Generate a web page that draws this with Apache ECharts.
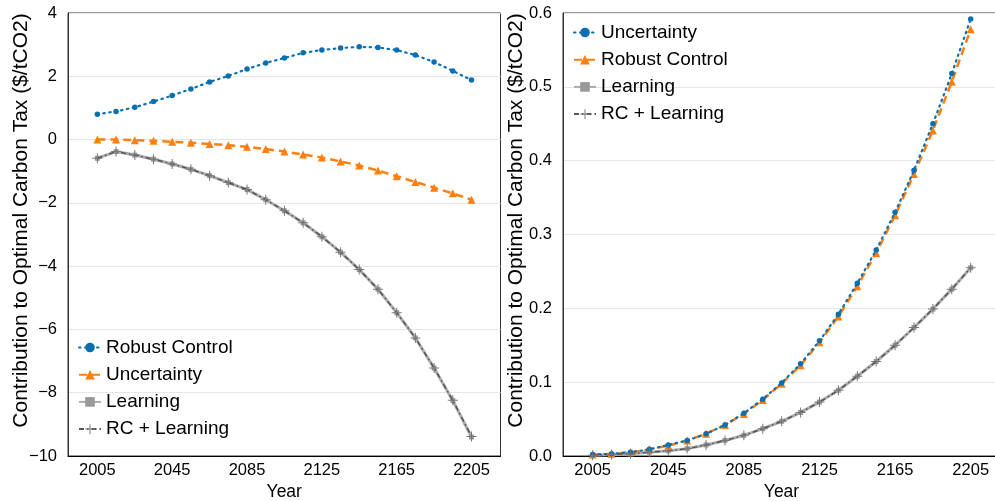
<!DOCTYPE html>
<html><head><meta charset="utf-8">
<script src="https://cdn.jsdelivr.net/npm/echarts@6/dist/echarts.min.js"></script>
<style>html,body{margin:0;padding:0;background:#fff;}#a{position:absolute;left:0;top:0;width:505px;height:501px;}#b{position:absolute;left:505px;top:0;width:490px;height:501px;}</style>
</head><body><div id="a"></div><div id="b"></div>
<script>
const years = [2005,2015,2025,2035,2045,2055,2065,2075,2085,2095,2105,2115,2125,2135,2145,2155,2165,2175,2185,2195,2205];
const xTicks = [2005,2045,2085,2125,2165,2205];
const leftTicks = [-10,-8,-6,-4,-2,0,2,4];
const rightTicks = [0,0.1,0.2,0.3,0.4,0.5,0.6];

const leftRobust = [0.80,0.89,1.02,1.20,1.39,1.60,1.82,2.01,2.23,2.42,2.58,2.74,2.83,2.89,2.93,2.91,2.83,2.67,2.45,2.17,1.88];
const leftUnc = [0.00,0.00,-0.02,-0.04,-0.07,-0.10,-0.14,-0.18,-0.23,-0.30,-0.38,-0.47,-0.57,-0.69,-0.82,-0.98,-1.16,-1.34,-1.52,-1.70,-1.90];
const leftLearn = [-0.59,-0.38,-0.49,-0.62,-0.77,-0.94,-1.14,-1.36,-1.58,-1.90,-2.25,-2.63,-3.07,-3.56,-4.11,-4.73,-5.47,-6.27,-7.22,-8.25,-9.40];
const leftRCL = [-0.59,-0.38,-0.49,-0.62,-0.77,-0.94,-1.14,-1.36,-1.58,-1.90,-2.25,-2.63,-3.07,-3.56,-4.11,-4.73,-5.47,-6.27,-7.22,-8.24,-9.38];

const rightUnc = [0.002,0.003,0.005,0.009,0.015,0.021,0.030,0.042,0.058,0.077,0.099,0.125,0.156,0.192,0.234,0.279,0.330,0.387,0.450,0.518,0.592];
const rightRob = [0.002,0.003,0.005,0.009,0.014,0.021,0.030,0.042,0.057,0.076,0.098,0.123,0.154,0.189,0.230,0.275,0.326,0.382,0.441,0.507,0.578];
const rightLearn = [0.001,0.002,0.003,0.005,0.007,0.010,0.015,0.021,0.028,0.037,0.047,0.059,0.073,0.089,0.108,0.128,0.150,0.174,0.199,0.226,0.255];
const rightRCL = [0.001,0.002,0.003,0.005,0.007,0.010,0.015,0.021,0.028,0.037,0.047,0.059,0.073,0.089,0.108,0.128,0.150,0.174,0.199,0.226,0.255];

const FONT = 'Liberation Sans, Arial, sans-serif';
const BLUE = '#0a6fb0', ORANGE = '#ff7f0e', LGRAY = '#ababab', DGRAY = '#555555';
const PLUS = 'path://M3.6,0H4.4V3.6H8V4.4H4.4V8H3.6V4.4H0V3.6H3.6Z';
const pairs = arr => years.map((y,i)=>[y,arr[i]]);
const minus = v => String(v).replace('-', '\u2212');

function series(names, data) {
  return [
    {name:names[0], type:'line', data:pairs(data[0]), symbol:'circle', symbolSize:5.5,
     itemStyle:{color:BLUE}, lineStyle:{color:BLUE, width:2.2, type:[1.5,4.5], cap:'round'}, z:4},
    {name:names[1], type:'line', data:pairs(data[1]), symbol:'triangle', symbolSize:8,
     itemStyle:{color:ORANGE}, lineStyle:{color:ORANGE, width:2.5, type:[8,5]}, z:3},
    {name:names[2], type:'line', data:pairs(data[2]), symbol:'rect', symbolSize:5,
     itemStyle:{color:'#999'}, lineStyle:{color:LGRAY, width:3}, z:2},
    {name:names[3], type:'line', data:pairs(data[3]), symbol:PLUS, symbolSize:10,
     itemStyle:{color:'#777'}, lineStyle:{color:DGRAY, width:1.5, type:[5,3,1.5,3]}, z:5}
  ].map(s => Object.assign(s, {showSymbol:true, animation:false, silent:true}));
}

function makeOpt(cfg) {
  return {
    animation:false,
    textStyle:{fontFamily:FONT},
    grid:Object.assign({show:true, borderColor:'#333', borderWidth:1, containLabel:false, outerBoundsMode:'none'}, cfg.grid),
    legend:{orient:'vertical', left:cfg.legendLeft, top:cfg.legendTop, itemWidth:22, itemHeight:12, itemGap:8.2,
            textStyle:{fontSize:19, lineHeight:19, color:'#000', fontFamily:FONT}, data:cfg.names, padding:0},
    xAxis:{type:'value', min:1989.3, max:2220.5, name:'Year', nameLocation:'middle', nameGap:27, nameMoveOverlap:false,
           nameTextStyle:{fontSize:17.5, color:'#000', fontFamily:FONT},
           axisLine:{show:true, onZero:false, lineStyle:{color:'#000', width:1}},
           axisTick:{show:false},
           axisLabel:{customValues:xTicks, fontSize:16.5, color:'#000', margin:6, fontFamily:FONT, formatter:v=>String(v)},
           splitLine:{show:false}},
    yAxis:{type:'value', min:cfg.yMin, max:cfg.yMax, interval:cfg.yInt,
           name:'Contribution to Optimal Carbon Tax ($/tCO2)', nameLocation:'middle', nameGap:cfg.nameGap, nameMoveOverlap:false,
           nameTextStyle:{fontSize:21, color:'#000', fontFamily:FONT, padding:[0,0,0,28]},
           axisLine:{show:true, lineStyle:{color:'#333', width:1}},
           axisTick:{show:false},
           axisLabel:{fontSize:16.5, color:'#000', margin:11, fontFamily:FONT, formatter:cfg.fmt},
           splitLine:{show:true, lineStyle:{color:'#e6e6e6', width:1}}},
    series:series(cfg.names, cfg.data)
  };
}

const ca = echarts.init(document.getElementById('a'), null, {renderer:'canvas'});
ca.setOption(makeOpt({
  grid:{left:68, top:13, width:432.5, height:443},
  legendLeft:78, legendTop:338,
  names:['Robust Control','Uncertainty','Learning','RC + Learning'],
  data:[leftRobust, leftUnc, leftLearn, leftRCL],
  yMin:-10, yMax:4, yInt:2, nameGap:36,
  fmt:v=>minus(v)
}));
const cb = echarts.init(document.getElementById('b'), null, {renderer:'canvas'});
cb.setOption(makeOpt({
  grid:{left:58, top:13, width:437, height:443},
  legendLeft:68, legendTop:23,
  names:['Uncertainty','Robust Control','Learning','RC + Learning'],
  data:[rightUnc, rightRob, rightLearn, rightRCL],
  yMin:0, yMax:0.6, yInt:0.1, nameGap:36,
  fmt:v=>v.toFixed(1)
}));
</script></body></html>
